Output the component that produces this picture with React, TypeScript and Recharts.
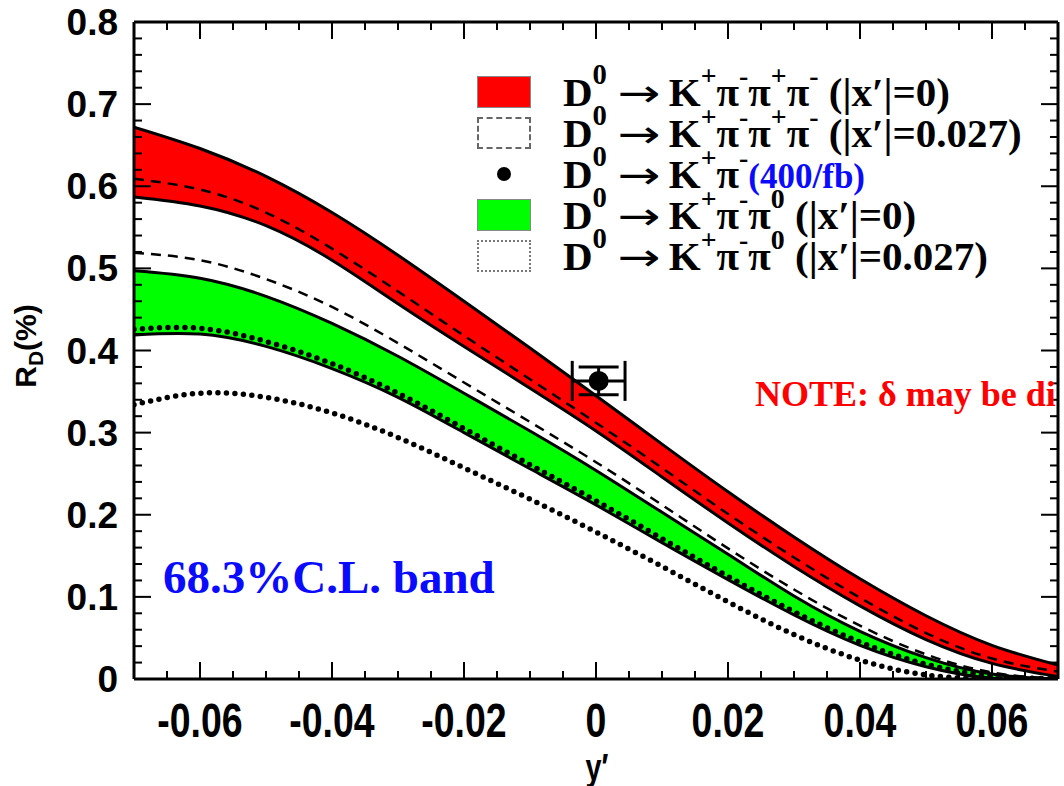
import { Area, ComposedChart, ErrorBar, Line, Scatter, XAxis, YAxis } from 'recharts'

// y' grid and R_D(%) curves
const Y_PRIME = [-0.07, -0.06, -0.05, -0.04, -0.03, -0.02, -0.01, 0, 0.01, 0.02, 0.03, 0.04, 0.05, 0.06, 0.07]
const K3PI_HI = [0.672, 0.646, 0.612, 0.568, 0.516, 0.46, 0.403, 0.345, 0.286, 0.228, 0.173, 0.122, 0.077, 0.041, 0.017]
const K3PI_LO = [0.587, 0.576, 0.552, 0.51, 0.457, 0.405, 0.354, 0.302, 0.246, 0.19, 0.137, 0.089, 0.048, 0.019, 0.003]
const K3PI_X027_A = [0.609, 0.596, 0.568, 0.524, 0.472, 0.418, 0.365, 0.312, 0.257, 0.201, 0.148, 0.099, 0.056, 0.025, 0.009]
const K3PI_X027_B = [0.519, 0.51, 0.487, 0.453, 0.409, 0.361, 0.313, 0.264, 0.212, 0.159, 0.109, 0.065, 0.03, 0.008, 0]
const KPIPI0_HI = [0.497, 0.488, 0.466, 0.433, 0.393, 0.348, 0.302, 0.254, 0.203, 0.152, 0.101, 0.058, 0.026, 0.006, 0]
const KPIPI0_LO = [0.419, 0.42, 0.405, 0.378, 0.343, 0.3, 0.256, 0.212, 0.166, 0.121, 0.078, 0.041, 0.015, 0.001, 0]
const KPIPI0_X027_A = [0.426, 0.427, 0.411, 0.384, 0.348, 0.305, 0.261, 0.217, 0.171, 0.125, 0.082, 0.045, 0.018, 0.004, 0]
const KPIPI0_X027_B = [0.334, 0.348, 0.343, 0.324, 0.294, 0.257, 0.219, 0.179, 0.137, 0.094, 0.054, 0.023, 0.005, 0, 0]

// K+pi- measurement (400/fb)
const MEAS_X = [0.0004]
const MEAS_Y = [0.363]
const MEAS_XERR = [0.004]
const MEAS_YERR = [0.017]

const X_TICKS = [-0.07, -0.065, -0.06, -0.055, -0.05, -0.045, -0.04, -0.035, -0.03, -0.025, -0.02, -0.015, -0.01, -0.005, 0,
  0.005, 0.01, 0.015, 0.02, 0.025, 0.03, 0.035, 0.04, 0.045, 0.05, 0.055, 0.06, 0.065, 0.07]
const X_LABELS = [-0.06, -0.04, -0.02, 0, 0.02, 0.04, 0.06]
const Y_TICKS = [0, 0.02, 0.04, 0.06, 0.08, 0.1, 0.12, 0.14, 0.16, 0.18, 0.2, 0.22, 0.24, 0.26, 0.28, 0.3, 0.32, 0.34, 0.36, 0.38, 0.4,
  0.42, 0.44, 0.46, 0.48, 0.5, 0.52, 0.54, 0.56, 0.58, 0.6, 0.62, 0.64, 0.66, 0.68, 0.7, 0.72, 0.74, 0.76, 0.78, 0.8]
const Y_LABELS = [0, 0.1, 0.2, 0.3, 0.4, 0.5, 0.6, 0.7, 0.8]

const curveData = Y_PRIME.map((x, i) => ({
  x,
  redHi: K3PI_HI[i],
  redLo: K3PI_LO[i],
  redDashA: K3PI_X027_A[i],
  redDashB: K3PI_X027_B[i],
  greenHi: KPIPI0_HI[i],
  greenLo: KPIPI0_LO[i],
  greenDotA: KPIPI0_X027_A[i],
  greenDotB: KPIPI0_X027_B[i],
}))
const measData = MEAS_X.map((x, i) => ({ x, y: MEAS_Y[i], ex: MEAS_XERR[i], ey: MEAS_YERR[i] }))

const isMultiple = (v: number, step: number) => Math.abs(v / step - Math.round(v / step)) < 1e-6

// frame tick marks (ROOT style, pointing into the pad)
const bottomTicks = X_TICKS.map((x) => ({ x, y: 0, major: isMultiple(x, 0.02) }))
const topTicks = X_TICKS.map((x) => ({ x, y: 0.8, major: isMultiple(x, 0.02) }))
const leftTicks = Y_TICKS.map((y) => ({ x: -0.07, y, major: isMultiple(y, 0.1) }))
const rightTicks = Y_TICKS.map((y) => ({ x: 0.07, y, major: isMultiple(y, 0.1) }))

const SANS = '"Liberation Sans", Arial, sans-serif'
const SERIF = '"Liberation Serif", "Times New Roman", serif'
const BLUE = '#0a0aff'
const RED = '#ff0000'
const GREEN = '#00ff00'
const TICK_INK = '#000'

const fmtX = (v: number) => (Math.abs(v) < 1e-9 ? '0' : v.toFixed(2))
const fmtY = (v: number) => (Math.abs(v) < 1e-9 ? '0' : v.toFixed(1))

// side: which frame edge the mark sits on
function tickMark(side: 'bottom' | 'top' | 'left' | 'right') {
  return (p: any) => {
    const len = p.payload.major ? 17 : 8
    const cx = Number(p.cx)
    const cy = Number(p.cy)
    if (side === 'bottom') return <rect x={cx - 1} y={cy - len} width={2} height={len} fill={TICK_INK} />
    if (side === 'top') return <rect x={cx - 1} y={cy} width={2} height={len} fill={TICK_INK} />
    if (side === 'left') return <rect x={cx} y={cy - 1} width={len} height={2} fill={TICK_INK} />
    return <rect x={cx - len} y={cy - 1} width={len} height={2} fill={TICK_INK} />
  }
}

function XLabel(props: any) {
  const x = Number(props.x)
  const y = Number(props.y)
  return (
    <text
      x={0}
      y={0}
      transform={`translate(${x} ${y + 58}) scale(0.78 1)`}
      textAnchor="middle"
      fontFamily={SANS}
      fontWeight="bold"
      fontSize={48}
      fill="#000"
    >
      {fmtX(props.payload.value)}
    </text>
  )
}

function YLabel(props: any) {
  return (
    <text x={Number(props.x) - 16} y={Number(props.y) + 13} textAnchor="end" fontFamily={SANS} fontWeight="bold" fontSize={37} fill="#000">
      {fmtY(props.payload.value)}
    </text>
  )
}

const sup = (s: string, size = '0.68em') => (
  <span style={{ fontSize: size, position: 'relative', top: '-0.75em' }}>{s}</span>
)

function LegendRow({ cy, symbol, children }: { cy: number; symbol: React.ReactNode; children: React.ReactNode }) {
  return (
    <>
      <div style={{ position: 'absolute', left: 477, top: cy - 16, width: 54, height: 32 }}>{symbol}</div>
      <div
        style={{
          position: 'absolute',
          left: 563,
          top: cy - 20,
          height: 40,
          lineHeight: '40px',
          whiteSpace: 'nowrap',
          fontFamily: SERIF,
          fontWeight: 'bold',
          fontSize: 41,
          color: '#000',
        }}
      >
        {children}
      </div>
    </>
  )
}

const ARROW = (
  <span
    style={{
      display: 'inline-block',
      fontFamily: '"DejaVu Sans", sans-serif',
      fontWeight: 'normal',
      fontSize: 38,
      transform: 'scaleX(1.35)',
      margin: '0 14px 0 16px',
    }}
  >
    →
  </span>
)

const D0 = (
  <>
    D{sup('0', '0.7em')}
    {ARROW}K{sup('+')}
  </>
)

const frameAxis = { stroke: '#000', strokeWidth: 3 }

export default function App() {
  return (
    <div style={{ position: 'relative', width: 1064, height: 786, background: '#fff' }}>
      <style>{'body{margin:0}'}</style>
      <ComposedChart width={1064} height={786} data={curveData} margin={{ top: 21, right: 5, bottom: 0, left: 0 }}>
        <Area xAxisId="b" yAxisId="l" type="natural" dataKey={(d: any) => [d.redLo, d.redHi]} fill={RED} fillOpacity={1} stroke="none" isAnimationActive={false} />
        <Area xAxisId="b" yAxisId="l" type="natural" dataKey={(d: any) => [d.greenLo, d.greenHi]} fill={GREEN} fillOpacity={1} stroke="none" isAnimationActive={false} />
        <Line xAxisId="b" yAxisId="l" type="natural" dataKey="redHi" stroke="#000" strokeWidth={3} dot={false} isAnimationActive={false} />
        <Line xAxisId="b" yAxisId="l" type="natural" dataKey="redLo" stroke="#000" strokeWidth={3} dot={false} isAnimationActive={false} />
        <Line xAxisId="b" yAxisId="l" type="natural" dataKey="greenHi" stroke="#000" strokeWidth={3} dot={false} isAnimationActive={false} />
        <Line xAxisId="b" yAxisId="l" type="natural" dataKey="greenLo" stroke="#000" strokeWidth={3} dot={false} isAnimationActive={false} />
        <Line xAxisId="b" yAxisId="l" type="natural" dataKey="redDashA" stroke="#000" strokeWidth={2.5} strokeDasharray="10 7" dot={false} isAnimationActive={false} />
        <Line xAxisId="b" yAxisId="l" type="natural" dataKey="redDashB" stroke="#000" strokeWidth={2.5} strokeDasharray="10 7" dot={false} isAnimationActive={false} />
        <Line xAxisId="b" yAxisId="l" type="natural" dataKey="greenDotA" stroke="#000" strokeWidth={5.5} strokeDasharray="0 8.5" strokeLinecap="round" dot={false} isAnimationActive={false} />
        <Line xAxisId="b" yAxisId="l" type="natural" dataKey="greenDotB" stroke="#000" strokeWidth={5.5} strokeDasharray="0 8.5" strokeLinecap="round" dot={false} isAnimationActive={false} />
        <Scatter
          xAxisId="b"
          yAxisId="l"
          data={measData}
          dataKey="y"
          isAnimationActive={false}
          shape={(p: any) => <circle cx={p.cx} cy={p.cy} r={10} fill="#000" />}
        >
          <ErrorBar dataKey="ey" direction="y" width={20} stroke="#000" strokeWidth={3} isAnimationActive={false} />
          <ErrorBar dataKey="ex" direction="x" width={20} stroke="#000" strokeWidth={3} isAnimationActive={false} />
        </Scatter>
        <Scatter xAxisId="b" yAxisId="l" data={bottomTicks} dataKey="y" isAnimationActive={false} shape={tickMark('bottom')} />
        <Scatter xAxisId="b" yAxisId="l" data={topTicks} dataKey="y" isAnimationActive={false} shape={tickMark('top')} />
        <Scatter xAxisId="b" yAxisId="l" data={leftTicks} dataKey="y" isAnimationActive={false} shape={tickMark('left')} />
        <Scatter xAxisId="b" yAxisId="l" data={rightTicks} dataKey="y" isAnimationActive={false} shape={tickMark('right')} />
        <XAxis
          xAxisId="b"
          dataKey="x"
          type="number"
          domain={[-0.07, 0.07]}
          allowDataOverflow
          ticks={X_LABELS}
          interval={0}
          height={107}
          tickSize={0}
          tickMargin={0}
          tickLine={false}
          axisLine={frameAxis}
          tick={(p: any) => <XLabel {...p} />}
        />
        <XAxis
          xAxisId="t"
          orientation="top"
          dataKey="x"
          type="number"
          domain={[-0.07, 0.07]}
          allowDataOverflow
          height={1}
          tickLine={false}
          tick={false}
          axisLine={frameAxis}
        />
        <YAxis
          yAxisId="l"
          type="number"
          domain={[0, 0.8]}
          allowDataOverflow
          ticks={Y_LABELS}
          interval={0}
          width={134}
          tickSize={0}
          tickMargin={0}
          tickLine={false}
          axisLine={frameAxis}
          tick={(p: any) => <YLabel {...p} />}
        />
        <YAxis
          yAxisId="r"
          orientation="right"
          type="number"
          domain={[0, 0.8]}
          allowDataOverflow
          width={1}
          tickLine={false}
          tick={false}
          axisLine={frameAxis}
        />
      </ComposedChart>

      {/* axis titles */}
      <div
        style={{
          position: 'absolute',
          left: 27,
          top: 346,
          transform: 'translate(-50%, -50%) rotate(-90deg)',
          fontFamily: SANS,
          fontWeight: 'bold',
          fontSize: 30,
          whiteSpace: 'nowrap',
          lineHeight: '34px',
        }}
      >
        R<span style={{ fontSize: '0.7em', position: 'relative', top: '0.35em' }}>D</span>(%)
      </div>
      <div
        style={{
          position: 'absolute',
          left: 597,
          top: 768,
          transform: 'translate(-50%, -50%) scaleX(0.8)',
          fontFamily: SANS,
          fontWeight: 'bold',
          fontSize: 36,
          lineHeight: '40px',
        }}
      >
        y′
      </div>

      {/* legend */}
      <LegendRow cy={92} symbol={<div style={{ width: '100%', height: '100%', background: RED, border: '1px solid #888', boxSizing: 'border-box' }} />}>
        {D0}π{sup('-')}π{sup('+')}π{sup('-')} (|x′|=0)
      </LegendRow>
      <LegendRow cy={133} symbol={<div style={{ width: '100%', height: '100%', border: '2px dashed #666', boxSizing: 'border-box' }} />}>
        {D0}π{sup('-')}π{sup('+')}π{sup('-')} (|x′|=0.027)
      </LegendRow>
      <LegendRow
        cy={174}
        symbol={<div style={{ position: 'absolute', left: 20, top: 9, width: 14, height: 14, borderRadius: '50%', background: '#000' }} />}
      >
        {D0}π{sup('-')}
        <span style={{ color: BLUE, fontSize: 35 }}>(400/fb)</span>
      </LegendRow>
      <LegendRow cy={215} symbol={<div style={{ width: '100%', height: '100%', background: GREEN, border: '1px solid #888', boxSizing: 'border-box' }} />}>
        {D0}π{sup('-')}π{sup('0')} (|x′|=0)
      </LegendRow>
      <LegendRow cy={256} symbol={<div style={{ width: '100%', height: '100%', border: '2px dotted #777', boxSizing: 'border-box' }} />}>
        {D0}π{sup('-')}π{sup('0')} (|x′|=0.027)
      </LegendRow>

      {/* annotations inside the frame */}
      <div style={{ position: 'absolute', left: 136, top: 24, width: 920, height: 653, overflow: 'hidden', pointerEvents: 'none' }}>
        <div
          style={{
            position: 'absolute',
            left: 755 - 136,
            top: 394 - 24 - 20,
            lineHeight: '40px',
            whiteSpace: 'nowrap',
            fontFamily: SERIF,
            fontWeight: 'bold',
            fontSize: 36,
            color: RED,
          }}
        >
          NOTE: δ may be different
        </div>
        <div
          style={{
            position: 'absolute',
            left: 163 - 136,
            top: 577 - 24 - 25,
            lineHeight: '50px',
            whiteSpace: 'nowrap',
            fontFamily: SERIF,
            fontWeight: 'bold',
            fontSize: 47,
            color: BLUE,
          }}
        >
          68.3%C.L. band
        </div>
      </div>
    </div>
  )
}
